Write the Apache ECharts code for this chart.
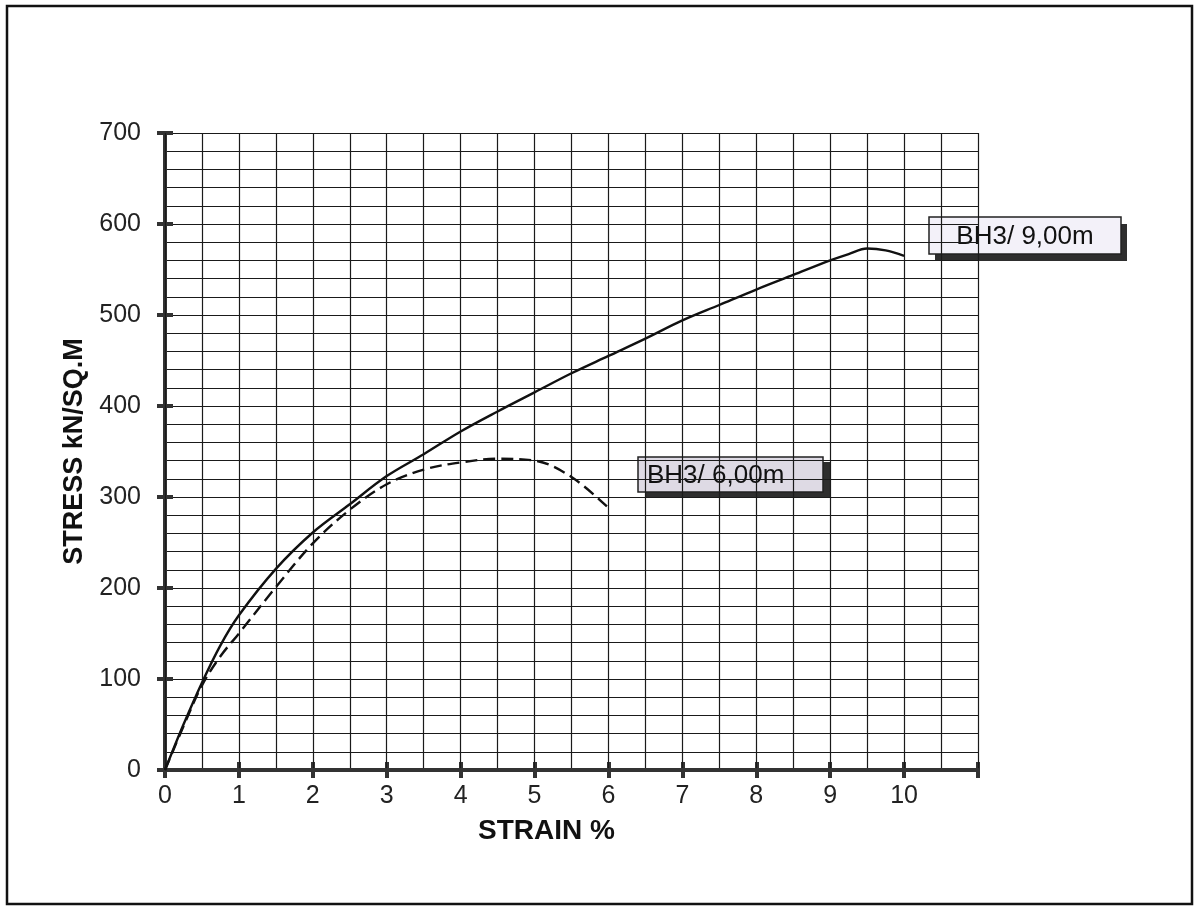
<!DOCTYPE html>
<html>
<head>
<meta charset="utf-8">
<title>Stress-strain curves BH3</title>
<script src="https://cdn.jsdelivr.net/npm/echarts@6/dist/echarts.min.js"></script>
<style>
  html, body { margin: 0; padding: 0; background: #fff; }
  #chart { width: 1195px; height: 906px; }
</style>
</head>
<body>
<div id="chart"></div>
<script>
// Strain (%) and stress (kN/m²) readings for the two samples
const strain9m = [0, 0.25, 0.5, 0.75, 1, 1.5, 2, 2.5, 3, 3.5, 4, 4.5, 5, 5.5, 6, 6.5, 7, 7.5, 8, 8.5, 9, 9.25, 9.5, 9.75, 10];
const stress9m = [0, 50, 96, 137, 170, 221, 261, 292, 323, 347, 372, 394, 415, 436, 455, 474, 494, 511, 528, 544, 560, 567, 573, 571, 565];

const strain6m = [0, 0.25, 0.5, 0.75, 1, 1.5, 2, 2.5, 3, 3.5, 4, 4.5, 5, 5.5, 6];
const stress6m = [0, 48, 93, 125, 150, 201, 249, 286, 314, 330, 338, 342, 340, 322, 288];

const seriesNames = ['BH3/ 9,00m', 'BH3/ 6,00m'];
const xTitle = 'STRAIN %';
const yTitle = 'STRESS kN/SQ.M';

const pairs = (xs, ys) => xs.map((x, i) => [x, ys[i]]);

const AXIS_COLOR = '#333';
const GRID_COLOR = '#1a1a1a';
const FONT = 'Liberation Sans, Arial, sans-serif';

const chart = echarts.init(document.getElementById('chart'), null, { renderer: 'canvas' });

const baseX = {
  type: 'value', min: 0, max: 11, interval: 1,
  axisLine: { show: true, onZero: false, lineStyle: { color: AXIS_COLOR, width: 4 } },
};
const baseY = {
  type: 'value', min: 0, max: 700, interval: 100,
  axisLine: { show: true, onZero: false, lineStyle: { color: AXIS_COLOR, width: 4 } },
};

// callout box with a drop shadow; align 'left' puts the text against the left padding
function callout(x, y, w, h, text, fill, align, fontSize, sx, sy) {
  return {
    type: 'group', x: x, y: y,
    children: [
      { type: 'rect', shape: { x: sx, y: sy, width: w, height: h }, style: { fill: '#2e2e2e' } },
      { type: 'rect', shape: { x: 0, y: 0, width: w, height: h }, style: { fill: fill, stroke: '#222', lineWidth: 1.5 } },
      {
        type: 'text', x: align === 'left' ? 9 : w / 2, y: h / 2 + 1,
        style: { text: text, fill: '#111', font: fontSize + 'px ' + FONT, align: align, verticalAlign: 'middle' }
      }
    ]
  };
}

chart.setOption({
  backgroundColor: '#fff',
  animation: false,
  grid: { left: 165, top: 133, right: 217, bottom: 136, containLabel: false },
  xAxis: [
    Object.assign({}, baseX, {
      name: xTitle, nameLocation: 'middle', nameGap: 47,
      nameTextStyle: { fontFamily: FONT, fontSize: 28, fontWeight: 'bold', color: '#111', padding: [0, 50, 0, 0] },
      axisTick: { show: true, inside: false, length: 8, lineStyle: { color: AXIS_COLOR, width: 4 } },
      axisLabel: {
        fontFamily: FONT, fontSize: 25, color: '#222', margin: 14,
        formatter: v => (v <= 10 ? String(v) : '')
      },
      splitLine: { show: true, lineStyle: { color: GRID_COLOR, width: 1.2 } },
      minorTick: { show: false, splitNumber: 2 },
      minorSplitLine: { show: true, lineStyle: { color: GRID_COLOR, width: 1.2 } },
      z: 3
    }),
    Object.assign({}, baseX, {
      position: 'bottom',
      axisTick: { show: true, inside: true, length: 8, lineStyle: { color: AXIS_COLOR, width: 4 } },
      axisLabel: { show: false }, splitLine: { show: false }
    })
  ],
  yAxis: [
    Object.assign({}, baseY, {
      name: yTitle, nameLocation: 'middle', nameGap: 76, nameRotate: 90,
      nameTextStyle: { fontFamily: FONT, fontSize: 27, fontWeight: 'bold', color: '#111' },
      axisTick: { show: true, inside: false, length: 8, lineStyle: { color: AXIS_COLOR, width: 4 } },
      axisLabel: { fontFamily: FONT, fontSize: 25, color: '#222', margin: 24 },
      splitLine: { show: true, lineStyle: { color: GRID_COLOR, width: 1.2 } },
      minorTick: { show: false, splitNumber: 5 },
      minorSplitLine: { show: true, lineStyle: { color: GRID_COLOR, width: 1.2 } }
    }),
    Object.assign({}, baseY, {
      position: 'left',
      axisTick: { show: true, inside: true, length: 8, lineStyle: { color: AXIS_COLOR, width: 4 } },
      axisLabel: { show: false }, splitLine: { show: false }
    })
  ],
  series: [
    {
      name: seriesNames[0], type: 'line', smooth: 0.35, showSymbol: false,
      data: pairs(strain9m, stress9m),
      lineStyle: { color: '#111', width: 2.4 }, z: 5
    },
    {
      name: seriesNames[1], type: 'line', smooth: 0.35, showSymbol: false,
      data: pairs(strain6m, stress6m),
      lineStyle: { color: '#111', width: 2.4, type: [12, 6] }, z: 5
    }
  ],
  graphic: [
    { type: 'rect', shape: { x: 7, y: 6, width: 1185, height: 898 }, style: { fill: 'none', stroke: '#111', lineWidth: 2.5 }, silent: true },
    callout(638, 457, 185, 35, seriesNames[1], '#dedae4', 'left', 26, 8, 5),
    callout(929, 217, 192, 37, seriesNames[0], '#f3f1f9', 'center', 26, 6, 7)
  ]
});
</script>
</body>
</html>
